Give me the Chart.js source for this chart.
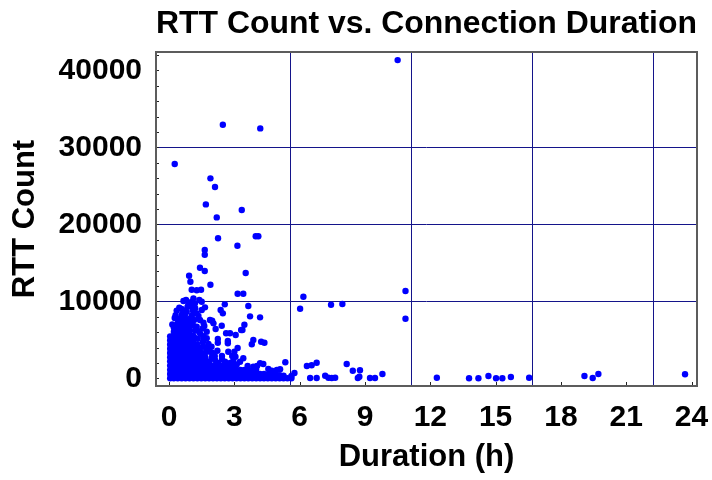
<!DOCTYPE html>
<html>
<head>
<meta charset="utf-8">
<script src="https://cdn.jsdelivr.net/npm/chart.js@4.4.1/dist/chart.umd.min.js"></script>
<style>
html, body { margin: 0; padding: 0; background: #fff; }
</style>
</head>
<body>
<canvas id="rttChart" width="712" height="480"></canvas>
<script>
// axis ticks / grid
const xTickHours = [0, 3, 6, 9, 12, 15, 18, 21, 24]
const yTickVals = [0, 2000, 4000, 6000, 8000, 10000, 12000, 14000, 16000, 18000, 20000,
    22000, 24000, 26000, 28000, 30000, 32000, 34000, 36000, 38000, 40000, 42000]
const yGridVals = [10000, 20000, 30000]
const xGridSeconds = [20000, 40000, 60000, 80000]

// [duration h, rtt count] - dense core near the origin
const corePts = [
    [0.05,0],[0.05,550],[0.05,1100],[0.05,1650],[0.05,2200],[0.05,2750],[0.05,3300],[0.05,3850],[0.05,4400],[0.05,4950],[0.05,5450],
    [0.22,0],[0.22,550],[0.22,1100],[0.22,1650],[0.22,2200],[0.22,2750],[0.22,3300],[0.22,3850],[0.22,4400],[0.22,4950],[0.22,5500],[0.22,6050],[0.22,6600],
    [0.4,0],[0.4,550],[0.4,1100],[0.4,1650],[0.4,2200],[0.4,2750],[0.4,3300],[0.4,3850],[0.4,4400],[0.4,4950],[0.4,5500],[0.4,6050],[0.4,6600],[0.4,7150],[0.4,7700],
    [0.58,0],[0.58,550],[0.58,1100],[0.58,1650],[0.58,2200],[0.58,2750],[0.58,3300],[0.58,3850],[0.58,4400],[0.58,4950],[0.58,5500],[0.58,6050],[0.58,6600],[0.58,7150],[0.58,7700],[0.58,8250],
    [0.76,0],[0.76,550],[0.76,1100],[0.76,1650],[0.76,2200],[0.76,2750],[0.76,3300],[0.76,3850],[0.76,4400],[0.76,4950],[0.76,5500],[0.76,6050],[0.76,6600],[0.76,7150],[0.76,7700],
    [0.94,0],[0.94,550],[0.94,1100],[0.94,1650],[0.94,2200],[0.94,2750],[0.94,3300],[0.94,3850],[0.94,4400],[0.94,4950],[0.94,5500],[0.94,6050],[0.94,6600],
    [1.12,0],[1.12,550],[1.12,1100],[1.12,1650],[1.12,2200],[1.12,2750],[1.12,3300],[1.12,3850],[1.12,4400],[1.12,4950],[1.12,5500],
    [1.3,0],[1.3,550],[1.3,1100],[1.3,1650],[1.3,2200],[1.3,2750],[1.3,3300],[1.3,3850],[1.3,4400],
    [1.48,0],[1.48,550],[1.48,1100],[1.48,1650],[1.48,2200],[1.48,2750],[1.48,3300],
    [1.66,0],[1.66,550],[1.66,1100],[1.66,1650],[1.66,2200],[1.66,2750],
    [1.84,0],[1.84,550],[1.84,1100],[1.84,1650],[1.84,2200]
]

// low band running out to ~6 h
const bandPts = [
    [2.02,0],[2.02,550],[2.02,1100],[2.02,1650],[2.2,0],[2.2,550],[2.2,1100],[2.2,1650],
    [2.38,0],[2.38,550],[2.38,1100],[2.38,1650],[2.56,0],[2.56,550],[2.56,1100],[2.56,1650],
    [2.74,0],[2.74,550],[2.74,1100],[2.74,1650],[2.92,0],[2.92,550],[2.92,1100],[2.92,1650],
    [3.1,0],[3.1,550],[3.1,1100],[3.28,0],[3.28,550],[3.28,1100],[3.46,0],[3.46,550],[3.46,1100],
    [3.64,0],[3.64,550],[3.64,1100],[3.82,0],[3.82,550],[3.82,1000],[4.0,0],[4.0,550],[4.0,1100],
    [4.18,0],[4.18,550],[4.36,0],[4.36,550],[4.54,0],[4.54,500],
    [4.72,0],[4.72,450],[4.9,0],[4.9,500],[5.08,0],[5.08,400],[5.26,0],[5.26,350],[5.44,0],[5.62,0],[5.62,300]
]

// scattered points above the core
const midPts = [
    [0.47,9170],[0.66,10040],[0.78,10170],[0.89,9650],[1.04,9390],[1.19,9740],[1.39,10170],[1.5,9950],
    [0.81,8650],[1.09,8870],[1.27,8440],[1.5,8870],[1.65,9220],[0.96,7790],[1.15,7570],[1.42,7570],
    [1.62,6790],[1.88,7570],[1.27,6700],[0.96,7100],[0.73,8300],[0.58,9000],[1.73,6050],[1.42,5850],
    [1.19,6200],[1.58,4100],[1.81,4450],[1.88,3460],[1.42,3950],[2.11,2380],[2.57,2160],[2.8,1980],
    [3.11,1800],[3.26,2160],[2.26,2000],[1.96,2700],[1.65,3300],[1.73,3900],[2.72,3460],[2.95,2300],
    [0.3,8200],[0.15,7000],[0.7,8800],[1.05,8200],[0.85,9300],[1.2,9100],[1.35,8100],[1.1,6900],
    [1.3,6200],[1.55,6500],[1.6,5000],[1.95,4100],[2.0,3300],[0.35,8800],[1.0,9900],[1.55,4700]
]

// sparse points and the long tail
const farPts = [
    [10.5,41350],[2.47,32940],[4.19,32475],[0.26,27840],[1.9,25980],[2.11,24850],[1.69,22600],[3.34,21860],
    [2.19,20910],[2.25,18190],[3.98,18450],[4.1,18450],[3.14,17230],[1.64,16670],[1.64,16060],[1.42,14370],
    [1.64,13940],[3.52,13680],[0.92,13330],[0.98,12550],[1.9,12160],[1.04,11500],[1.27,11450],[1.47,11500],
    [3.15,10990],[3.41,10990],[6.17,10600],[10.86,11340],[1.12,10390],[6.02,9040],[7.44,9560],[7.96,9650],
    [10.86,7740],[2.56,9610],[3.64,9390],[0.26,7830],[3.72,8050],[4.18,7920],[2.37,8870],[2.47,8440],
    [1.98,7480],[2.04,7140],[1.58,7220],[2.42,6830],[3.46,6960],[3.31,6270],[3.37,6270],[2.62,5850],
    [2.8,5850],[3.06,5620],[2.14,6400],[3.8,4420],[3.87,4970],[4.23,4750],[4.38,4620],[1.15,5320],
    [1.32,5140],[1.73,5200],[1.57,5470],[2.24,5100],[2.24,4620],[2.7,4840],[2.7,4550],[3.15,3940],
    [2.22,3590],[2.1,2900],[2.43,2900],[2.43,2470],[3.41,2600],[2.9,2900],[3.05,2800],[3.0,3460],
    [3.61,1600],[3.87,1500],[4.04,1600],[4.18,1950],[4.33,1860],[4.56,1210],[4.72,990],[4.95,1080],
    [5.1,1170],[5.34,2080],[5.76,690],[6.33,1600],[6.55,1690],[6.78,2030],[6.48,40],[6.78,40],
    [7.17,340],[7.32,80],[7.47,40],[7.63,80],[8.16,1860],[8.44,990],[8.77,1040],[8.67,40],
    [8.74,210],[9.23,40],[9.46,40],[9.8,560],[12.3,80],[13.78,0],[14.21,0],[14.67,300],
    [15.02,0],[15.31,0],[15.7,170],[16.54,80],[19.08,300],[19.46,40],[19.72,560],[23.7,520]
]

const gridColor = '#14148a'
const fontFam = "'Liberation Sans', Arial, sans-serif"

const toXY = ar => ar.map(p => ({x: p[0], y: p[1]}))

// frame, inside tick marks and the 20000 s vertical grid
const framePlugin = {
    id: 'frame',
    beforeDatasetsDraw(chart) {
        const {ctx, chartArea: a, scales: {x}} = chart
        ctx.save()
        ctx.strokeStyle = gridColor
        ctx.lineWidth = 1
        xGridSeconds.forEach(s => {
            const px = Math.round(x.getPixelForValue(s / 3600)) + 0.5
            ctx.beginPath()
            ctx.moveTo(px, a.top)
            ctx.lineTo(px, a.bottom)
            ctx.stroke()
        })
        ctx.restore()
    },
    afterDatasetsDraw(chart) {
        const {ctx, chartArea: a, scales: {x, y}} = chart
        ctx.save()
        ctx.strokeStyle = '#222'
        ctx.lineWidth = 1
        yTickVals.forEach(v => {
            const py = Math.round(y.getPixelForValue(v)) + 0.5
            ctx.beginPath()
            ctx.moveTo(a.left, py)
            ctx.lineTo(a.left + 3, py)
            ctx.stroke()
        })
        xTickHours.forEach(v => {
            const px = Math.round(x.getPixelForValue(v)) + 0.5
            ctx.beginPath()
            ctx.moveTo(px, a.bottom)
            ctx.lineTo(px, a.bottom - 4)
            ctx.stroke()
        })
        ctx.strokeStyle = '#5c5c5c'
        ctx.lineWidth = 2
        ctx.strokeRect(a.left, a.top, a.right - a.left, a.bottom - a.top)
        ctx.restore()
    }
}

const ctx = document.getElementById('rttChart').getContext('2d')
const rttChart = new Chart(ctx, {
    type: 'scatter',
    data: {
        datasets: [{
            label: 'RTT Count',
            data: toXY(farPts).concat(toXY(midPts), toXY(bandPts), toXY(corePts)),
            backgroundColor: '#0000ff',
            borderWidth: 0,
            pointRadius: 3.2,
            pointHoverRadius: 3.2
        }]
    },
    options: {
        responsive: false,
        animation: false,
        layout: { padding: { left: 0, right: 15, top: 0, bottom: 0 } },
        plugins: {
            legend: { display: false },
            tooltip: { enabled: false },
            title: {
                display: true,
                text: 'RTT Count vs. Connection Duration',
                fullSize: false,
                color: '#000',
                font: { family: fontFam, size: 32, weight: 'bold' },
                padding: { top: 5, bottom: 8.6 }
            }
        },
        scales: {
            x: {
                type: 'linear',
                min: -0.6,
                max: 24.25,
                afterBuildTicks: s => { s.ticks = xTickHours.map(v => ({value: v})) },
                afterFit: s => { s.height = 94; s.paddingLeft = 0; s.paddingRight = 0 },
                grid: { display: false, drawTicks: false },
                border: { display: false },
                ticks: {
                    autoSkip: false,
                    maxRotation: 0,
                    padding: 14,
                    color: '#000',
                    font: { family: fontFam, size: 30, weight: 'bold' }
                },
                title: {
                    display: true,
                    text: 'Duration (h)',
                    color: '#000',
                    font: { family: fontFam, size: 31, weight: 'bold' },
                    padding: { top: 0, bottom: 4 }
                }
            },
            y: {
                type: 'linear',
                min: -1000,
                max: 42400,
                afterBuildTicks: s => { s.ticks = yTickVals.map(v => ({value: v})) },
                afterFit: s => { s.width = 156; s.paddingTop = 0; s.paddingBottom = 0 },
                grid: {
                    drawTicks: false,
                    lineWidth: 1,
                    color: c => (c.tick && yGridVals.includes(c.tick.value)) ? gridColor : 'rgba(0,0,0,0)'
                },
                border: { display: false },
                ticks: {
                    autoSkip: false,
                    padding: 14,
                    color: '#000',
                    font: { family: fontFam, size: 30, weight: 'bold' },
                    callback: v => (v % 10000 === 0 ? String(v) : '')
                },
                title: {
                    display: true,
                    text: 'RTT Count',
                    color: '#000',
                    font: { family: fontFam, size: 31, weight: 'bold' },
                    padding: { top: 7, bottom: 0 }
                }
            }
        }
    },
    plugins: [framePlugin]
})
</script>
</body>
</html>
